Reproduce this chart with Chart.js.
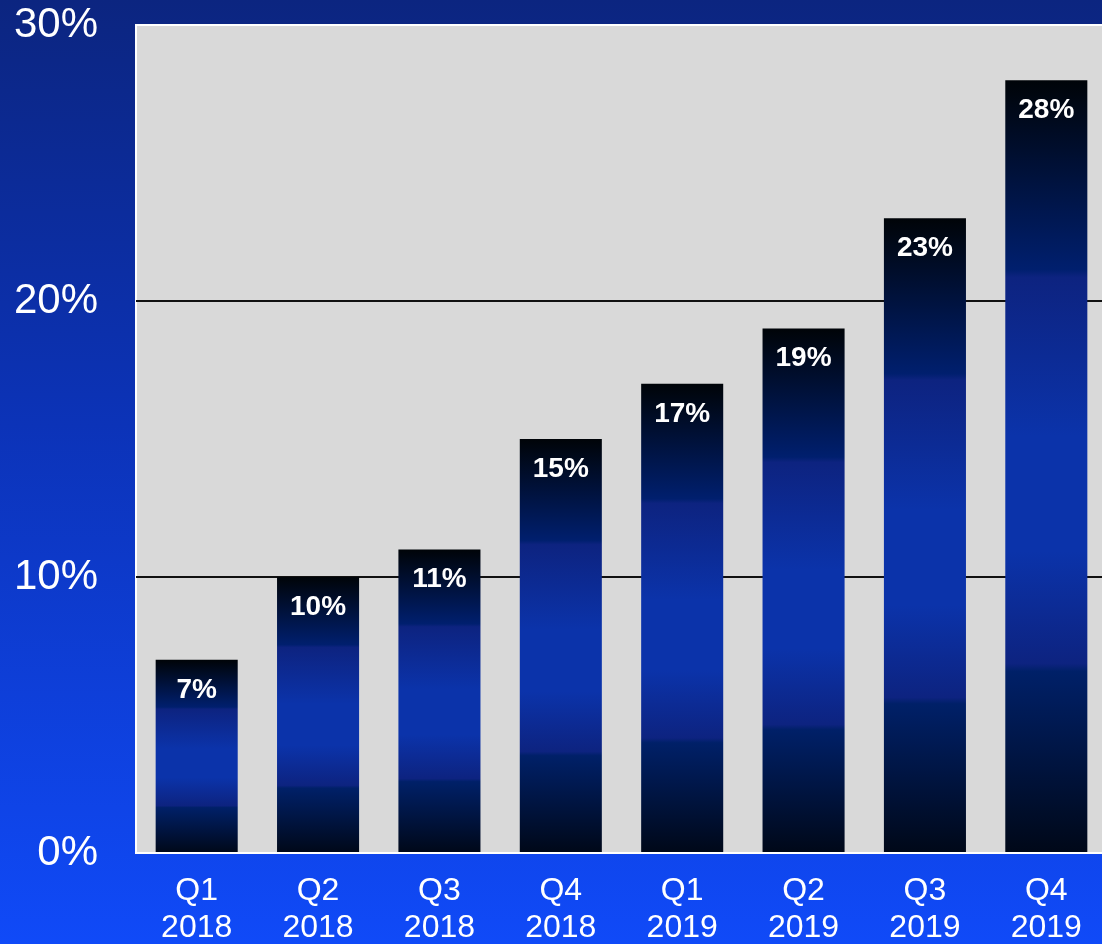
<!DOCTYPE html>
<html>
<head>
<meta charset="utf-8">
<script src="https://cdn.jsdelivr.net/npm/chart.js@4/dist/chart.umd.min.js"></script>
<style>
  html, body { margin: 0; padding: 0; overflow: hidden; background: #0d2a9a; }
  #wrap { width: 1107px; height: 944px; position: relative; }
</style>
</head>
<body>
<div id="wrap"><canvas id="chart"></canvas></div>
<script>
// Données du graphique
const quarters = ['Q1', 'Q2', 'Q3', 'Q4', 'Q1', 'Q2', 'Q3', 'Q4'];
const years = ['2018', '2018', '2018', '2018', '2019', '2019', '2019', '2019'];
const shares = [7, 10, 11, 15, 17, 19, 23, 28];
const yTicks = [0, 10, 20, 30];

const labels = quarters.map((q, i) => [q, years[i]]);
const FONT = '"Liberation Sans", Arial, sans-serif';

// Fond dégradé de la page + zone grise du graphique
const backdrop = {
    id: 'backdrop',
    beforeDraw(chart) {
        const { ctx, width, height, chartArea: a } = chart;
        ctx.save();
        const g = ctx.createLinearGradient(0, 0, 0, height);
        g.addColorStop(0, '#0c2580');
        g.addColorStop(0.45, '#0c33b8');
        g.addColorStop(1, '#104af8');
        ctx.fillStyle = g;
        ctx.fillRect(0, 0, width, height);
        ctx.fillStyle = '#d9d9d9';
        ctx.fillRect(a.left, a.top, a.right - a.left, a.bottom - a.top);
        ctx.strokeStyle = '#ffffff';
        ctx.lineWidth = 2;
        ctx.beginPath();
        ctx.moveTo(a.right + 10, a.top);
        ctx.lineTo(a.left, a.top);
        ctx.lineTo(a.left, a.bottom);
        ctx.lineTo(a.right + 10, a.bottom);
        ctx.stroke();
        ctx.restore();
    }
};

// Étiquettes de valeur dans le haut des barres
const valueLabels = {
    id: 'valueLabels',
    afterDatasetsDraw(chart) {
        const { ctx } = chart;
        const meta = chart.getDatasetMeta(0);
        ctx.save();
        ctx.fillStyle = '#ffffff';
        ctx.font = 'bold 28px ' + FONT;
        ctx.textAlign = 'center';
        ctx.textBaseline = 'middle';
        meta.data.forEach((bar, i) => {
            ctx.fillText(shares[i] + '%', bar.x, bar.y + 30);
        });
        ctx.restore();
    }
};

// Dégradé vertical de chaque barre (sombre en haut et en bas, bleu au centre)
function barGradient(context) {
    const chart = context.chart;
    const y = chart.scales.y;
    if (!chart.chartArea || !y) return '#0b2fa8';
    const top = y.getPixelForValue(context.raw);
    const base = y.getPixelForValue(0);
    const g = chart.ctx.createLinearGradient(0, top, 0, base);
    g.addColorStop(0, '#000408');
    g.addColorStop(0.245, '#001f6e');
    g.addColorStop(0.255, '#0d2380');
    g.addColorStop(0.46, '#0b33aa');
    g.addColorStop(0.61, '#0b33aa');
    g.addColorStop(0.755, '#0d2380');
    g.addColorStop(0.765, '#002068');
    g.addColorStop(1, '#000818');
    return g;
}

new Chart(document.getElementById('chart'), {
    type: 'bar',
    data: {
        labels: labels,
        datasets: [{
            data: shares,
            backgroundColor: barGradient,
            borderWidth: 0,
            barPercentage: 0.676,
            categoryPercentage: 1
        }]
    },
    options: {
        responsive: true,
        maintainAspectRatio: false,
        animation: false,
        layout: { padding: { top: 25, right: 0, bottom: 0, left: 0 } },
        plugins: {
            legend: { display: false },
            tooltip: { enabled: false }
        },
        scales: {
            x: {
                grid: { display: false, drawTicks: false },
                border: { display: false },
                ticks: {
                    color: '#ffffff',
                    padding: 20,
                    maxRotation: 0,
                    font: { family: FONT, size: 32, lineHeight: 1.15 }
                },
                afterFit(scale) { scale.height = 91; scale.paddingLeft = 0; scale.paddingRight = 0; }
            },
            y: {
                min: 0,
                max: 30,
                afterBuildTicks(scale) { scale.ticks = yTicks.map(v => ({ value: v })); },
                grid: {
                    drawTicks: false,
                    lineWidth: 2,
                    color: (c) => (c.tick && (c.tick.value === 10 || c.tick.value === 20)) ? '#111111' : 'rgba(0,0,0,0)'
                },
                border: { display: false },
                ticks: {
                    color: '#ffffff',
                    padding: 38,
                    callback: (v) => v + '%',
                    font: { family: FONT, size: 42 }
                },
                afterFit(scale) { scale.width = 136; scale.paddingTop = 0; scale.paddingBottom = 0; }
            }
        }
    },
    plugins: [backdrop, valueLabels]
});
</script>
</body>
</html>
